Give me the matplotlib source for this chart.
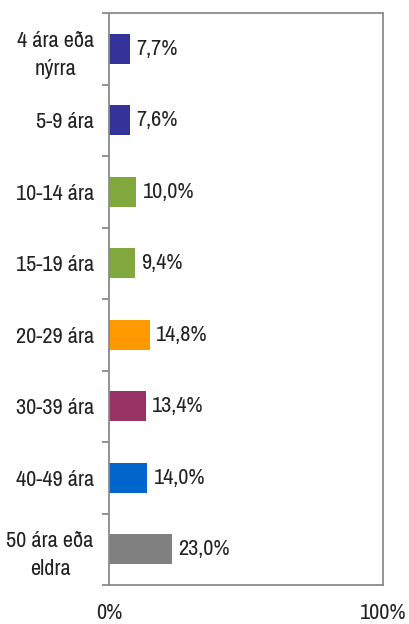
import matplotlib.pyplot as plt
from matplotlib import font_manager

# Data
categories = ["4 ára eða\nnýrra", "5-9 ára", "10-14 ára", "15-19 ára",
              "20-29 ára", "30-39 ára", "40-49 ára", "50 ára eða\neldra"]
values = [7.7, 7.6, 10.0, 9.4, 14.8, 13.4, 14.0, 23.0]
colors = ["#333399", "#333399", "#80A83C", "#80A83C",
          "#FF9900", "#993366", "#0066CC", "#808080"]

# pick a narrow face if one is installed
fonts = font_manager.fontManager.ttflist
narrow = [f for f in fonts if "Narrow" in f.name]
if narrow:
    plt.rcParams["font.family"] = [narrow[0].name, "DejaVu Sans"]
else:
    plt.rcParams["font.family"] = ["DejaVu Sans"]
    plt.rcParams["font.stretch"] = "condensed"

fs = 16
fig = plt.figure(figsize=(4.09, 6.24), dpi=100)
ax = fig.add_axes([109 / 409, 1 - 585 / 624, (383 - 109) / 409, (585 - 13) / 624])

y = list(range(len(categories)))
bars = ax.barh(y, values, height=0.42, color=colors)
for b, v in zip(bars, values):
    ax.text(b.get_width() + 2.3, b.get_y() + b.get_height() / 2,
            f"{v:.1f}%".replace(".", ","), va="center", ha="left",
            fontsize=fs, color="#222222")

ax.set_xlim(0, 100)
ax.set_ylim(len(categories) - 0.5, -0.5)
ax.set_xticks([0, 100])
ax.set_xticklabels(["0%", "100%"], fontsize=fs, color="#222222")
ax.tick_params(axis="x", length=0, pad=13)

ax.set_yticks(y)
ax.set_yticklabels(categories, fontsize=fs, color="#222222", linespacing=1.5,
                   multialignment="center")
ax.tick_params(axis="y", which="major", length=0, pad=11)
ax.set_yticks([i - 0.5 for i in range(len(categories) + 1)], minor=True)
ax.tick_params(axis="y", which="minor", length=5, color="#808080", width=1.2)

for s in ax.spines.values():
    s.set_color("#8a8a8a")
    s.set_linewidth(1.3)

fig.savefig("out.png", dpi=100)
